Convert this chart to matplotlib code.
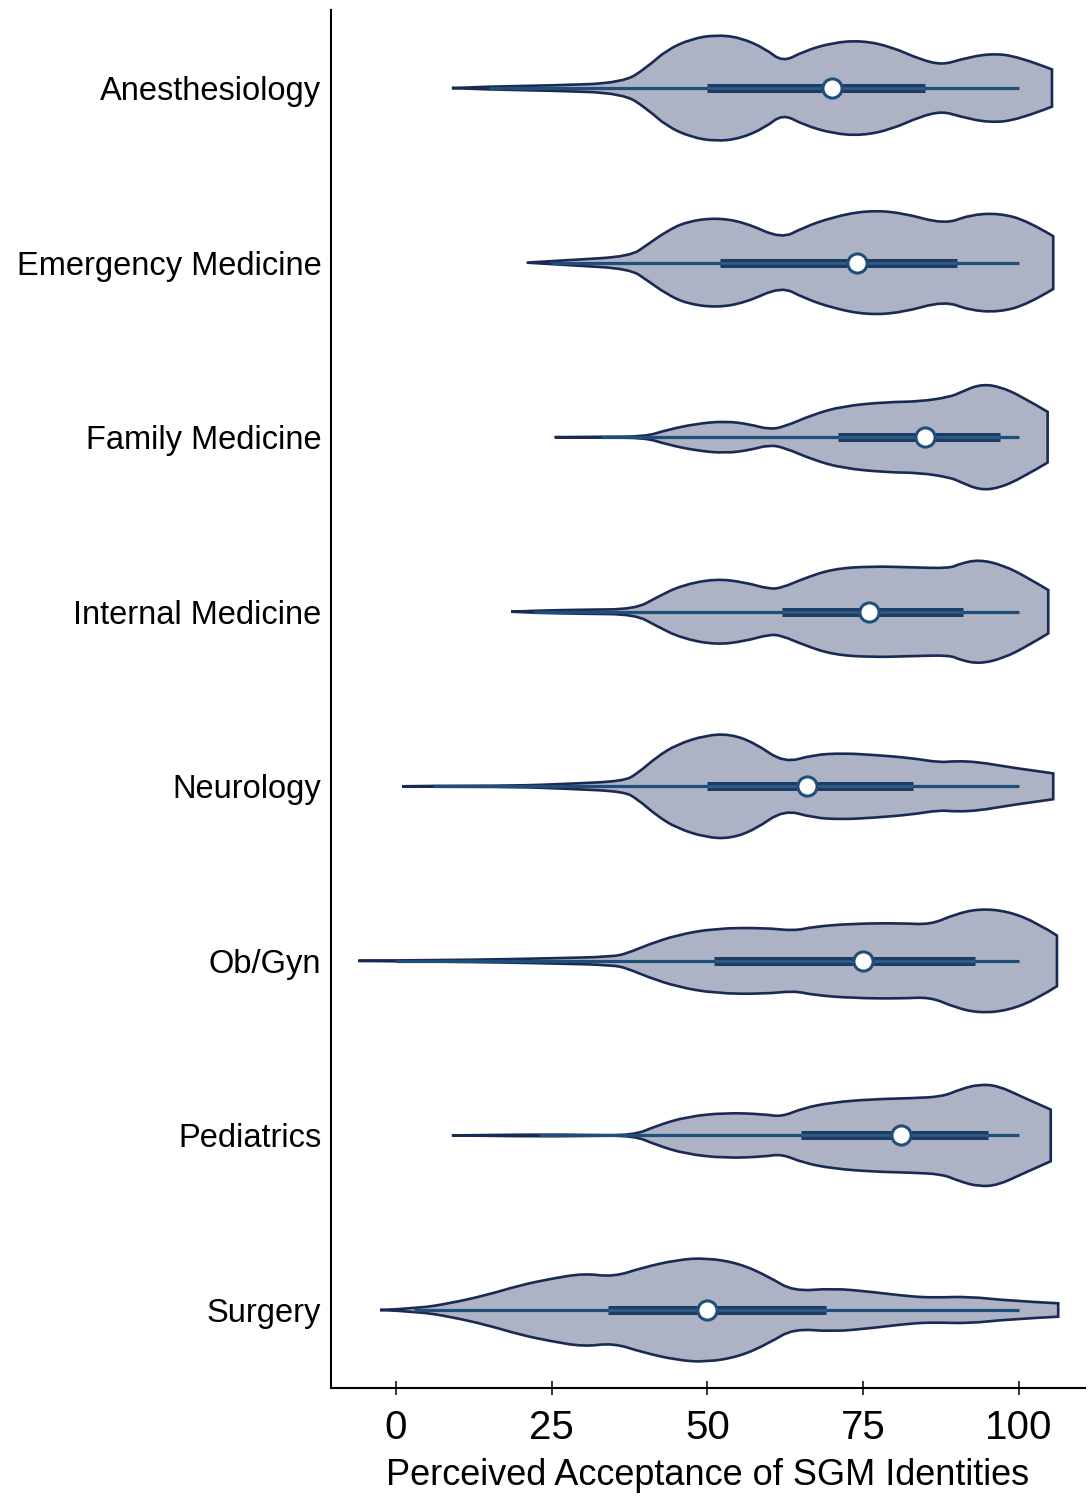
import numpy as np
import matplotlib.pyplot as plt
from matplotlib.path import Path
from matplotlib.patches import PathPatch

plt.rcParams['font.family'] = ['Liberation Sans', 'DejaVu Sans']

specialties = ['Anesthesiology', 'Emergency Medicine', 'Family Medicine',
               'Internal Medicine', 'Neurology', 'Ob/Gyn', 'Pediatrics', 'Surgery']

# summary stats per specialty: lower adjacent, Q1, median, Q3, upper adjacent
lower = [15, 25, 33, 22, 6, 0, 23, 3]
q1 = [50, 52, 71, 62, 50, 51, 65, 34]
median = [70, 74, 85, 76, 66, 75, 81, 50]
q3 = [85, 90, 97, 91, 83, 93, 95, 69]
upper = [100, 100, 100, 100, 100, 100, 100, 100]

# density outline of each violin (score, relative density)
dens_x = [
    [9, 15, 25, 36.5, 40.4, 43.5, 47.4, 51.3, 55.2, 59.2, 62.1, 65.4, 70.1, 74.8, 79.5, 84.2, 87.7, 90.5, 95.1, 99.8, 105.3],
    [21, 28, 37.6, 40.4, 43.5, 46.6, 51.3, 56.0, 61.9, 65.4, 70.1, 75.6, 81.1, 88.1, 92.0, 96.7, 101.4, 105.5],
    [25.5, 33, 40, 43.5, 48.2, 52.9, 56.8, 59.9, 62.3, 67.0, 71.7, 78.7, 84.2, 88.9, 90.5, 93.6, 96.7, 100.6, 104.6],
    [18.5, 22, 30, 38.4, 41.9, 45.8, 51.3, 56.0, 59.9, 61.9, 65.4, 70.1, 76.4, 82.6, 88.9, 90.5, 93.6, 97.5, 101.4, 104.7],
    [1, 6, 19, 28, 36.6, 38.8, 41.9, 45.1, 49.8, 53.7, 57.6, 62.3, 67.0, 71.7, 76.4, 82.6, 87.3, 89.7, 93.6, 98.3, 105.5],
    [-6, 0, 12, 25, 34.9, 37.2, 40.4, 45.1, 51.3, 59.2, 63.9, 67.0, 73.2, 81.1, 85.8, 89.7, 93.6, 98.3, 103.0, 106.1],
    [9, 21.6, 30, 38.2, 41.9, 46.6, 52.9, 59.2, 61.9, 65.4, 70.1, 76.4, 82.6, 87.7, 90.5, 93.6, 96.7, 100.6, 105.1],
    [-2.5, 3.6, 9.1, 14.6, 20.0, 24.7, 30.2, 34.9, 39.6, 45.1, 49.8, 55.2, 59.9, 63.8, 70.1, 76.4, 82.6, 86.5, 92.0, 98.3, 106.3],
]
dens_y = [
    [0, .03, .05, .10, .41, .74, .95, 1.03, .98, .77, .50, .71, .88, .92, .80, .55, .45, .55, .67, .62, .36],
    [0, .05, .12, .35, .61, .79, .87, .78, .46, .68, .88, 1.01, .97, .74, .92, .96, .81, .51],
    [0, .01, .01, .14, .26, .31, .25, .15, .20, .44, .60, .68, .69, .78, .86, 1.02, .99, .78, .49],
    [0, .02, .04, .05, .28, .51, .64, .57, .44, .46, .64, .83, .88, .86, .84, .93, 1.01, .90, .66, .42],
    [0, .01, .01, .05, .10, .25, .57, .81, .99, 1.01, .84, .45, .61, .64, .61, .55, .46, .49, .47, .37, .25],
    [0, .01, .02, .05, .08, .15, .31, .50, .63, .64, .58, .66, .72, .73, .70, .90, 1.01, .96, .73, .49],
    [0, .02, .01, 0, .19, .36, .44, .41, .36, .53, .64, .70, .72, .75, .89, .99, .96, .74, .50],
    [0, .03, .14, .29, .48, .60, .71, .64, .82, .97, 1.01, .90, .64, .36, .42, .35, .26, .24, .26, .18, .13],
]

fill_col = '#adb3c4'
edge_col = '#1b2a55'
line_col = '#1f4e79'
half_w = 0.296


def smooth_edge(pts):
    # quadratic b-spline through the outline points
    verts = [pts[0]]
    codes = [Path.LINETO]
    for i in range(1, len(pts) - 2):
        mid = ((pts[i][0] + pts[i + 1][0]) / 2, (pts[i][1] + pts[i + 1][1]) / 2)
        verts += [pts[i], mid]
        codes += [Path.CURVE3, Path.CURVE3]
    verts += [pts[-2], pts[-1]]
    codes += [Path.CURVE3, Path.CURVE3]
    return verts, codes


fig = plt.figure(figsize=(10.92, 14.97), dpi=100)
ax = fig.add_axes([0.3031, 0.0728, 0.6905, 0.9205])

for i in range(len(specialties)):
    xs = np.array(dens_x[i])
    ws = np.array(dens_y[i]) * half_w
    top = list(zip(xs, i - ws))
    bot = list(zip(xs[::-1], i + ws[::-1]))
    v1, c1 = smooth_edge(top)
    v2, c2 = smooth_edge(bot)
    verts = v1 + v2 + [v1[0]]
    codes = c1 + c2 + [Path.CLOSEPOLY]
    codes[0] = Path.MOVETO
    ax.add_patch(PathPatch(Path(verts, codes), facecolor=fill_col,
                           edgecolor=edge_col, lw=1.9, zorder=2))

    ax.plot([lower[i], upper[i]], [i, i], color=line_col, lw=2.3,
            solid_capstyle='butt', zorder=3)
    ax.plot([q1[i], q3[i]], [i, i], color='#1d3b63', lw=6.5,
            solid_capstyle='butt', zorder=4)
    ax.plot([q1[i], q3[i]], [i, i], color='#2f5f8c', lw=1.8,
            solid_capstyle='butt', zorder=4)
    ax.plot(median[i], i, 'o', ms=13.8, mfc='white', mec=line_col,
            mew=2.2, zorder=5)

ax.set_xlim(-10.4, 110.6)
ax.set_ylim(7.447, -0.447)
ax.set_yticks(range(len(specialties)))
ax.set_yticklabels(specialties, fontsize=23.5)
ax.set_xticks([0, 25, 50, 75, 100])
ax.tick_params(axis='y', length=0, pad=7)
ax.tick_params(axis='x', direction='inout', length=10, width=1.1,
               labelsize=29, pad=10)
ax.set_xlabel('Perceived Acceptance of SGM Identities', fontsize=26,
              labelpad=8)

for side in ['top', 'right']:
    ax.spines[side].set_visible(False)
for side in ['left', 'bottom']:
    ax.spines[side].set_linewidth(1.5)

plt.savefig('out.png', dpi=100)
